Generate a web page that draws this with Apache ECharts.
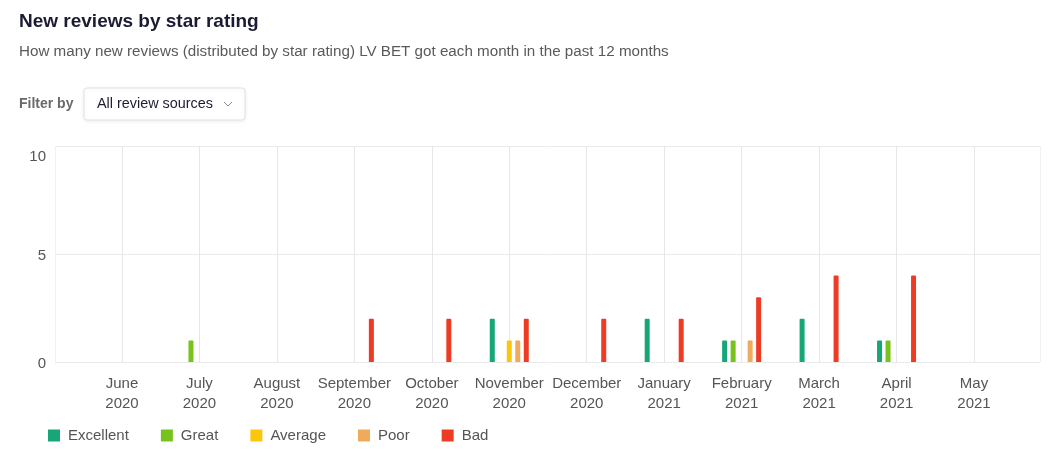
<!DOCTYPE html>
<html>
<head>
<meta charset="utf-8">
<script src="https://cdn.jsdelivr.net/npm/echarts@6/dist/echarts.min.js"></script>
<style>
html,body{margin:0;padding:0;background:#fff;}
#chart{width:1050px;height:457px;}
</style>
</head>
<body>
<div id="chart"></div>
<script>
var months = ['June','July','August','September','October','November','December','January','February','March','April','May'];
var years  = ['2020','2020','2020','2020','2020','2020','2020','2021','2021','2021','2021','2021'];
var excellent = [0,0,0,0,0,2,0,2,1,2,1,0];
var great     = [0,1,0,0,0,0,0,0,1,0,1,0];
var average   = [0,0,0,0,0,1,0,0,0,0,0,0];
var poor      = [0,0,0,0,0,1,0,0,1,0,0,0];
var bad       = [0,0,0,2,2,2,2,2,3,4,4,0];
var seriesNames = ['Excellent','Great','Average','Poor','Bad'];
var seriesColors = ['#17a678','#76c41b','#fcc60c','#efaa5b','#ee3b24'];
var yTicks = [0,5,10];

var categories = months.map(function(m,i){ return m + '\n' + years[i]; });
var values = [excellent, great, average, poor, bad];
var font = '"Liberation Sans", Arial, sans-serif';

var chart = echarts.init(document.getElementById('chart'), null, {renderer:'canvas'});
var option = {
  animation: false,
  textStyle: {fontFamily: font},
  grid: [
    {left: 122, right: 76, top: 146, bottom: 95},
    {left: 55, right: 10, top: 146, bottom: 95}
  ],
  xAxis: [
    {
      type: 'category', gridIndex: 0, data: categories, boundaryGap: false,
      axisLine: {show: false}, axisTick: {show: false},
      axisLabel: {interval: 0, fontSize: 15, color: '#555', lineHeight: 20, margin: 12, fontFamily: font},
      splitLine: {show: true, lineStyle: {color: '#e6e6e6', width: 1}}
    },
    {
      type: 'value', gridIndex: 1, min: 0, max: 1, interval: 1,
      axisLine: {show: false}, axisTick: {show: false}, axisLabel: {show: false},
      splitLine: {show: true, lineStyle: {color: '#f1f1f1', width: 1}}
    }
  ],
  yAxis: [
    {
      type: 'value', gridIndex: 0, min: 0, max: 10, interval: 5,
      show: false, splitLine: {show: false}
    },
    {
      type: 'value', gridIndex: 1, min: yTicks[0], max: yTicks[yTicks.length-1], interval: 5,
      axisLine: {show: false}, axisTick: {show: false},
      axisLabel: {
        fontSize: 15, color: '#555', margin: 9, fontFamily: font,
        formatter: function(v){ return v === 10 ? '{t|10}' : '{n|' + v + '}'; },
        rich: {
          t: {fontSize: 15, color: '#555', padding: [22,0,0,0], fontFamily: font},
          n: {fontSize: 15, color: '#555', padding: [4,0,0,0], fontFamily: font}
        }
      },
      splitLine: {show: true, lineStyle: {color: '#ebebeb', width: 1}}
    }
  ],
  legend: {
    left: 43, top: 423, icon: 'rect', itemWidth: 12, itemHeight: 12, itemGap: 32,
    textStyle: {fontSize: 15, color: '#555', padding: [0,0,0,3], fontFamily: font},
    data: seriesNames
  },
  graphic: [
    {type: 'text', x: 19, y: 22, style: {text: 'New reviews by star rating', font: 'bold 19px ' + font, fill: '#1b1b33', verticalAlign: 'middle'}},
    {type: 'text', x: 19, y: 52, style: {text: 'How many new reviews (distributed by star rating) LV BET got each month in the past 12 months', font: '15.2px ' + font, fill: '#5a5a5a', verticalAlign: 'middle'}},
    {type: 'text', x: 19, y: 104, style: {text: 'Filter by', font: 'bold 14px ' + font, fill: '#6a6a6a', verticalAlign: 'middle'}},
    {type: 'rect', shape: {x: 84, y: 88, width: 161, height: 32, r: 3},
      style: {fill: '#fff', stroke: '#e2e2e2', lineWidth: 1, shadowBlur: 4, shadowColor: 'rgba(0,0,0,0.08)', shadowOffsetY: 1}},
    {type: 'text', x: 97, y: 104, style: {text: 'All review sources', font: '14.4px ' + font, fill: '#1b1b33', verticalAlign: 'middle'}},
    {type: 'polyline', shape: {points: [[224,102],[228,106],[232,102]]}, style: {stroke: '#8a8a8a', lineWidth: 1, fill: null}}
  ],
  series: seriesNames.map(function(name, i){
    return {
      name: name, type: 'bar', xAxisIndex: 0, yAxisIndex: 0,
      barWidth: 5, barGap: '70%',
      itemStyle: {color: seriesColors[i], borderRadius: [1,1,0,0]},
      data: values[i]
    };
  })
};
chart.setOption(option);
</script>
</body>
</html>
